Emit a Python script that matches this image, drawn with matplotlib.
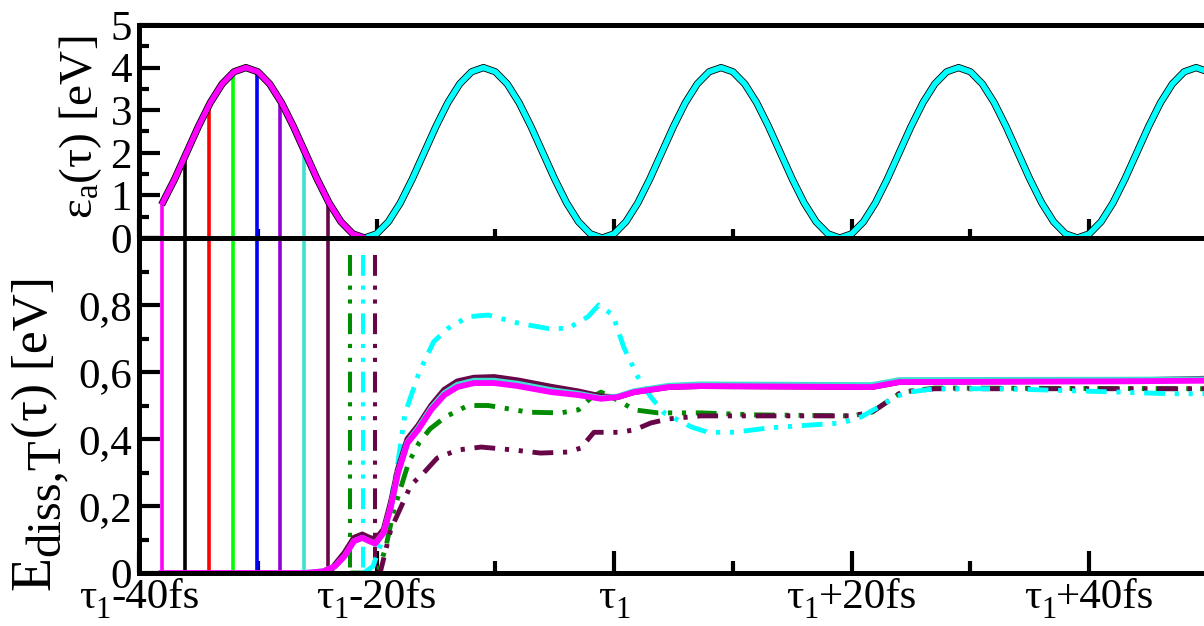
import matplotlib
matplotlib.use("Agg")
import matplotlib.pyplot as plt
from matplotlib.ticker import MultipleLocator, FixedLocator, FuncFormatter

plt.rcParams["font.family"] = ["Liberation Serif", "DejaVu Serif"]
plt.rcParams["mathtext.fontset"] = "custom"
plt.rcParams["mathtext.rm"] = "Liberation Serif"
plt.rcParams["mathtext.it"] = "Liberation Serif:italic"
plt.rcParams["lines.scale_dashes"] = False

W, H = 1204, 626

# --- upper panel: pulse energy eps_a(tau), time in fs relative to tau_1 ---
pulse_t_first = [-38.1, -37, -36, -35, -34, -33, -32, -31, -30, -29, -28,
                 -27, -26, -25, -24, -23, -22, -21]
pulse_e_first = [0.78, 1.382, 2.000, 2.618, 3.176, 3.618, 3.902, 4.000,
                 3.902, 3.618, 3.176, 2.618, 2.000, 1.382, 0.824, 0.382,
                 0.098, 0.000]

pulse_t_rest = list(range(-21, 51))
pulse_e_rest = [
    0.000, 0.098, 0.382, 0.824, 1.382, 2.000, 2.618, 3.176, 3.618, 3.902,
    4.000, 3.902, 3.618, 3.176, 2.618, 2.000, 1.382, 0.824, 0.382, 0.098,
    0.000, 0.098, 0.382, 0.824, 1.382, 2.000, 2.618, 3.176, 3.618, 3.902,
    4.000, 3.902, 3.618, 3.176, 2.618, 2.000, 1.382, 0.824, 0.382, 0.098,
    0.000, 0.098, 0.382, 0.824, 1.382, 2.000, 2.618, 3.176, 3.618, 3.902,
    4.000, 3.902, 3.618, 3.176, 2.618, 2.000, 1.382, 0.824, 0.382, 0.098,
    0.000, 0.098, 0.382, 0.824, 1.382, 2.000, 2.618, 3.176, 3.618, 3.902,
    4.000, 3.902,
]

# start times of the propagation (vertical markers)
start_times = [-38.1, -36.1, -34.1, -32.1, -30.1, -28.1, -26.1, -24.1]
start_heights = [0.78, 1.95, 3.1, 3.88, 3.88, 3.1, 1.95, 0.78]
start_colors = ["#ff00ff", "#000000", "#ff0000", "#00ff00", "#0000ff",
                "#9400d3", "#40e0d0", "#670748"]

late_times = [-22.2, -21.1, -20.1]
late_colors = ["#008b00", "#00ffff", "#670748"]

# --- lower panel: dissipated energy ---
mag_t = [-38.1, -26.0, -24.5, -23.5, -22.7, -21.9, -21.2, -20.6, -20.1,
         -19.4, -18.8, -18.2, -17.4, -16.5, -15.4, -14.3, -13.2, -11.8,
         -10.1, -8.1, -5.3, -3.0, -1.1, 0.3, 1.7, 4.6, 7.3, 21.7, 24.0,
         42.2, 50.0]
mag_e = [0.0, 0.0, 0.005, 0.02, 0.05, 0.095, 0.105, 0.095, 0.088,
         0.12, 0.197, 0.298, 0.388, 0.427, 0.487, 0.531, 0.555, 0.567,
         0.567, 0.558, 0.54, 0.531, 0.52, 0.525, 0.54, 0.555, 0.558,
         0.555, 0.57, 0.572, 0.574]

maroon_t = [-24.1, -24.0, -23.5, -22.7, -21.9, -21.2, -20.6, -20.1,
            -19.4, -18.8, -18.2, -17.4, -16.5, -15.4, -14.3, -13.2, -11.8,
            -10.1, -8.1, -5.3, -3.0, -1.1, 0.3, 1.7, 4.6, 7.3, 21.7, 24.0,
            42.2, 50.0]
maroon_e = [0.0, 0.0, 0.025, 0.06, 0.105, 0.115, 0.105, 0.10,
            0.13, 0.21, 0.31, 0.40, 0.44, 0.50, 0.547, 0.572, 0.583,
            0.585, 0.575, 0.556, 0.542, 0.527, 0.525, 0.54, 0.555, 0.558,
            0.555, 0.57, 0.574, 0.580]

turq_t = [-26.1, -24.5, -23.5, -22.7, -21.9, -21.2, -20.6, -20.1,
          -19.4, -18.8, -18.2, -17.4, -16.5, -15.4, -14.3, -13.2, -11.8,
          -10.1, -8.1, -5.3, -3.0, -1.1, 0.3, 1.7, 4.6, 7.3, 21.7, 24.0,
          42.2, 50.0]
turq_e = [0.0, 0.005, 0.02, 0.05, 0.095, 0.105, 0.095, 0.088,
          0.12, 0.197, 0.298, 0.39, 0.432, 0.492, 0.537, 0.562, 0.574,
          0.574, 0.565, 0.546, 0.535, 0.522, 0.527, 0.543, 0.559, 0.563,
          0.561, 0.576, 0.577, 0.578]

cyan_t = [-21.1, -20.3, -19.7, -19.0, -18.2, -17.6, -16.4, -15.2, -14.0,
          -12.3, -10.6, -8.1, -5.6, -3.9, -2.2, -1.3, -0.1, 0.8, 2.0, 3.1,
          4.2, 6.5, 7.9, 10.1, 13.0, 15.8, 19.2, 20.8, 22.5, 23.6, 24.8,
          27.0, 32.7, 42.5, 46.8, 50.0]
cyan_e = [0.0, 0.02, 0.08, 0.18, 0.33, 0.477, 0.60, 0.69, 0.73,
          0.765, 0.77, 0.746, 0.73, 0.73, 0.765, 0.80, 0.77, 0.675, 0.585,
          0.525, 0.478, 0.436, 0.42, 0.42, 0.433, 0.44, 0.448, 0.466, 0.50,
          0.525, 0.54, 0.55, 0.55, 0.54, 0.535, 0.535]

green_t = [-22.2, -19.9, -19.2, -18.6, -18.0, -17.3, -16.4, -15.5, -14.2,
           -12.3, -10.6, -7.2, -4.5, -3.0, -1.9, -1.1, 0.3, 1.7, 3.7, 7.3,
           12.0, 20.0, 21.7, 24.2, 27.0, 50.0]
green_e = [0.0, 0.0, 0.08, 0.18, 0.25, 0.33, 0.39, 0.43, 0.466,
           0.50, 0.50, 0.48, 0.478, 0.487, 0.525, 0.54, 0.516, 0.487,
           0.478, 0.478, 0.472, 0.469, 0.48, 0.54, 0.552, 0.55]

plum_t = [-20.1, -19.7, -18.8, -17.1, -16.0, -14.9, -13.2, -11.2, -8.4,
          -6.2, -3.9, -2.8, -1.7, 0.3, 1.7, 3.1, 4.6, 7.3, 20.0, 21.7,
          24.2, 27.0, 50.0]
plum_e = [0.0, 0.0, 0.13, 0.263, 0.30, 0.343, 0.367, 0.376, 0.367,
          0.358, 0.361, 0.373, 0.42, 0.42, 0.427, 0.448, 0.46, 0.469,
          0.469, 0.48, 0.54, 0.55, 0.55]

x_major = [-40, -20, 0, 20, 40]
x_minor = [-30, -10, 10, 30, 50]
x_suffix = ["-40fs", "-20fs", "", "+20fs", "+40fs"]

DDOT = (0, (15, 7, 3, 7, 3, 7))


def style_axes(ax, xmaj_len, xmin_len):
    for sp in ax.spines.values():
        sp.set_linewidth(3.6)
    ax.set_xlim(-40, 50)
    ax.xaxis.set_major_locator(FixedLocator(x_major))
    ax.xaxis.set_minor_locator(FixedLocator(x_minor))
    ax.tick_params(axis="x", which="major", direction="in", length=xmaj_len,
                   width=3, top=False, labelbottom=False)
    ax.tick_params(axis="x", which="minor", direction="in", length=xmin_len,
                   width=3, top=False)
    ax.tick_params(axis="y", which="major", direction="in", length=15,
                   width=3, right=False, pad=5, labelsize=31)
    ax.tick_params(axis="y", which="minor", direction="in", length=7.5,
                   width=3, right=False)


def pieces_text(fig, renderer, pieces, x0, y0, vertical=False, center=False):
    """pieces: (text, size, drop_px); drawn one after another in pixels"""
    rot = 90 if vertical else 0
    sizes = []
    for s, fs, _ in pieces:
        t = fig.text(0, 0, s, fontsize=fs, rotation=rot)
        bb = t.get_window_extent(renderer)
        sizes.append(bb.height if vertical else bb.width)
        t.remove()
    pos = -sum(sizes) / 2 if center else 0
    for (s, fs, drop), step in zip(pieces, sizes):
        if vertical:
            x, y = x0 + drop, y0 + pos
        else:
            x, y = x0 + pos, y0 - drop
        fig.text(x / W, y / H, s, fontsize=fs, rotation=rot,
                 rotation_mode="anchor", ha="left", va="baseline")
        pos += step


def draw_top(ax):
    for t, h, c in zip(start_times, start_heights, start_colors):
        ax.plot([t, t], [0, h], color=c, lw=2.6)
    ax.plot(pulse_t_rest, pulse_e_rest, color="black", lw=5.2,
            solid_capstyle="butt", solid_joinstyle="round")
    ax.plot(pulse_t_rest, pulse_e_rest, color="#00ffff", lw=4.0,
            solid_capstyle="butt", solid_joinstyle="round")
    ax.plot(pulse_t_first, pulse_e_first, color="black", lw=5.2,
            solid_capstyle="butt", solid_joinstyle="round")
    ax.plot(pulse_t_first, pulse_e_first, color="#ff00ff", lw=4.0,
            solid_capstyle="butt", solid_joinstyle="round")
    style_axes(ax, 13.5, 6.5)
    ax.set_ylim(0, 5)
    ax.yaxis.set_major_locator(MultipleLocator(1))
    ax.yaxis.set_minor_locator(MultipleLocator(0.5))
    ax.set_ylabel("ε$_\\mathregular{a}$(τ) [eV]", fontsize=34)
    ax.yaxis.set_label_coords(-0.033, 0.52)


def draw_bottom(ax):
    for t, c in zip(start_times, start_colors):
        ax.plot([t, t], [0, 1], color=c, lw=2.6)
    for t, c in zip(late_times, late_colors):
        ax.plot([t, t], [0.95, 0], color=c, lw=2.9, linestyle=DDOT)
    ax.plot(green_t, green_e, color="#008b00", lw=3.5, linestyle=DDOT)
    ax.plot(plum_t, plum_e, color="#670748", lw=3.5, linestyle=DDOT)
    ax.plot(cyan_t, cyan_e, color="#00ffff", lw=3.5, linestyle=DDOT)
    ax.plot(maroon_t, maroon_e, color="#670748", lw=4.2)
    ax.plot(turq_t, turq_e, color="#40e0d0", lw=4.2)
    ax.plot(mag_t, mag_e, color="#ff00ff", lw=4.2)
    style_axes(ax, 16, 8.5)
    ax.set_ylim(0, 1)
    ax.yaxis.set_major_locator(MultipleLocator(0.2))
    ax.yaxis.set_minor_locator(MultipleLocator(0.1))

    def fmt(v, pos):
        if abs(v) < 1e-9:
            return "0"
        if v > 0.99:
            return ""
        return ("%.1f" % v).replace(".", ",")

    ax.yaxis.set_major_formatter(FuncFormatter(fmt))


def draw_texts(fig, ax_bot):
    renderer = fig.canvas.get_renderer()
    # x tick labels: tau, lowered small "1", offset
    for v, suf in zip(x_major, x_suffix):
        xd, _ = ax_bot.transData.transform((v, 0))
        pieces = [("τ", 31, 0), ("1", 22, 10)]
        if suf:
            pieces.append((suf, 31, 0))
        pieces_text(fig, renderer, pieces, xd, 18, center=True)
    # lower y label
    pieces_text(fig, renderer,
                [("E", 40, 0), ("diss,T", 35, 11), ("(τ) [eV]", 37, -2)],
                49, 36, vertical=True)


def main():
    fig = plt.figure(figsize=(W / 100, H / 100), dpi=100)
    left = 139 / W
    width = (1208 - 139) / W
    ax_top = fig.add_axes([left, 1 - 238 / H, width, 213 / H])
    ax_bot = fig.add_axes([left, 1 - 573 / H, width, 335 / H])
    draw_top(ax_top)
    draw_bottom(ax_bot)
    draw_texts(fig, ax_bot)
    fig.savefig("out.png", dpi=100)


if __name__ == "__main__":
    main()
